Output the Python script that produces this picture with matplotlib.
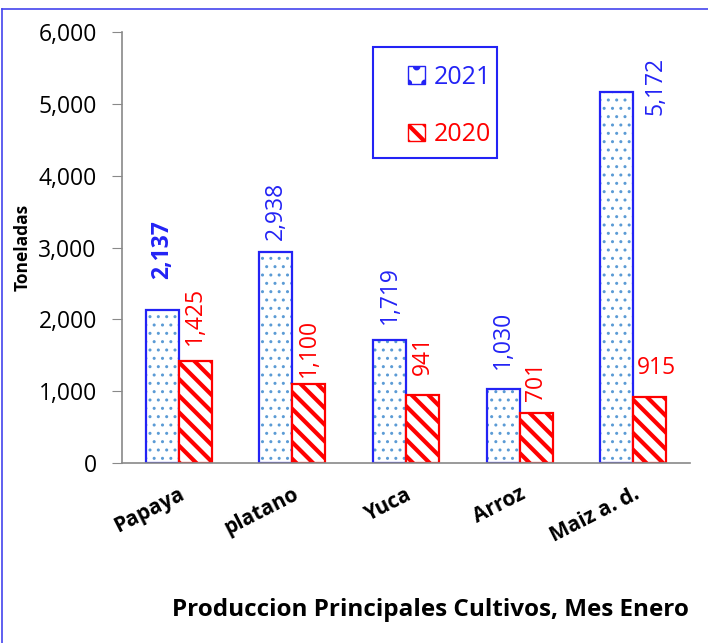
import matplotlib
matplotlib.use('Agg')
import matplotlib.pyplot as plt
import numpy as np
from matplotlib.patches import Patch
from matplotlib.lines import Line2D

# datos
cultivos = ['Papaya', 'platano', 'Yuca', 'Arroz', 'Maiz a. d.']
anio_2021 = [2137, 2938, 1719, 1030, 5172]
anio_2020 = [1425, 1100, 941, 701, 915]
etiquetas_2021 = ['2,137', '2,938', '1,719', '1,030', '5,172']
etiquetas_2020 = ['1,425', '1,100', '941', '701', '915']
yticks = [0, 1000, 2000, 3000, 4000, 5000, 6000]

AZUL = '#2323F5'
ROJO = '#FF0000'
PUNTOS = '#5B9BD5'
FUENTE = 'Open Sans'
TAM = 16.5

plt.rcParams['font.family'] = [FUENTE, 'DejaVu Sans']

fig = plt.figure(figsize=(7.08, 6.43), dpi=100)
ax = fig.add_axes([0.172, 0.280, 0.803, 0.670])

x = np.arange(len(cultivos))
w = 0.29

# barras 2021: puntos claros + borde azul
plt.rcParams['hatch.linewidth'] = 1.0
ax.bar(x - w / 2, anio_2021, w, facecolor='white', edgecolor=PUNTOS, hatch='..', linewidth=0)
ax.bar(x - w / 2, anio_2021, w, fill=False, edgecolor=AZUL, linewidth=1.6)
# barras 2020: rayas rojas
plt.rcParams['hatch.linewidth'] = 3.0
ax.bar(x + w / 2, anio_2020, w, facecolor='white', edgecolor=ROJO, hatch='\\\\', linewidth=0)
ax.bar(x + w / 2, anio_2020, w, fill=False, edgecolor=ROJO, linewidth=1.6)

ax.set_xlim(-0.5, len(cultivos) - 0.5)
ax.set_ylim(0, 6000)
ax.set_yticks(yticks)
ax.set_yticklabels([f'{v:,}' for v in yticks], fontsize=TAM)
ax.set_xticks(x)
ax.set_xticklabels(cultivos, fontsize=15, fontweight='bold', rotation=27,
                   ha='right', rotation_mode='anchor')
ax.tick_params(axis='x', length=0, pad=15)
ax.tick_params(axis='y', length=7, color='#898989', pad=11)

for s in ['top', 'right']:
    ax.spines[s].set_visible(False)
for s in ['left', 'bottom']:
    ax.spines[s].set_color('#898989')
    ax.spines[s].set_linewidth(1.2)

# etiquetas de valores (desplazamiento en px)
off21 = [31, 12, 16, 20]
off20 = [16, 7, 20, 12]
for i in range(4):
    ax.annotate(etiquetas_2021[i], (x[i] - w / 2, anio_2021[i]), xytext=(0, off21[i] * 0.72),
                textcoords='offset points', rotation=90, ha='center', va='bottom',
                fontsize=TAM, color=AZUL, fontweight='bold' if i == 0 else 'normal')
    ax.annotate(etiquetas_2020[i], (x[i] + w / 2, anio_2020[i]), xytext=(0, off20[i] * 0.72),
                textcoords='offset points', rotation=90, ha='center', va='bottom',
                fontsize=TAM, color=ROJO)
# Maiz: etiquetas especiales
ax.annotate(etiquetas_2021[4], (x[4], anio_2021[4]), xytext=(22 * 0.72, 6 * 0.72),
            textcoords='offset points', rotation=90, ha='center', va='center',
            fontsize=TAM, color=AZUL)
ax.annotate(etiquetas_2020[4], (x[4], anio_2020[4]), xytext=(3 * 0.72, 29 * 0.72),
            textcoords='offset points', ha='left', va='center', fontsize=TAM, color=ROJO)

ax.set_ylabel('Toneladas', fontsize=12.5, fontweight='bold')
ax.yaxis.set_label_coords(-90 / 569, 0.5)

# leyenda
handles = [Patch(facecolor='white', edgecolor=AZUL, hatch='.', label='2021'),
           Patch(facecolor='white', edgecolor=ROJO, hatch='\\\\', label='2020')]
leg = fig.legend(handles=handles, loc='center', bbox_to_anchor=(0.635, 1 - 106 / 643),
                 frameon=False, fontsize=18, handlelength=0.7, handleheight=0.7,
                 handletextpad=0.35, labelspacing=1.3)
for t, c in zip(leg.get_texts(), [AZUL, ROJO]):
    t.set_color(c)
fig.patches.append(plt.Rectangle((373 / 708, 1 - 158 / 643), 124 / 708, 111 / 643,
                                 transform=fig.transFigure, fill=False,
                                 edgecolor=AZUL, linewidth=1.5))

# borde del grafico
fig.add_artist(Line2D([2 / 708, 1], [1 - 9 / 643, 1 - 9 / 643], color='#4444EE', linewidth=1.2))
fig.add_artist(Line2D([2 / 708, 2 / 708], [0, 1 - 9 / 643], color='#4444EE', linewidth=1.2))

fig.text(430 / 708, 1 - 610 / 643, 'Produccion Principales Cultivos, Mes Enero',
         ha='center', va='center', fontsize=17.5, fontweight='bold')

fig.savefig('out.png', dpi=100)
